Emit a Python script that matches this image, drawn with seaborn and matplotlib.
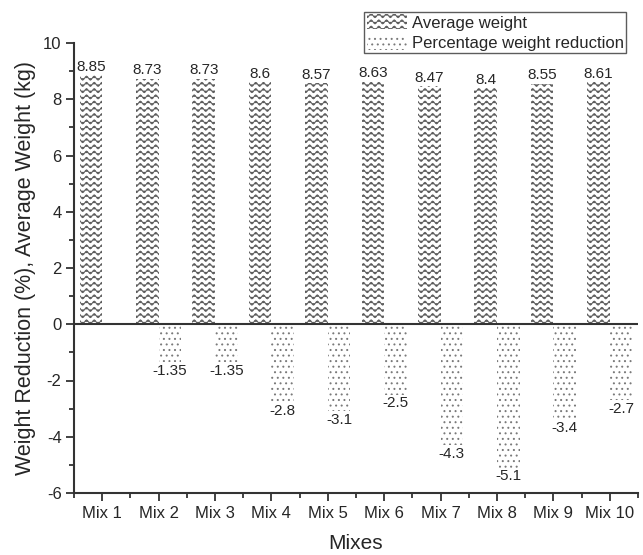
import warnings

import numpy as np
import pandas as pd
import matplotlib
matplotlib.use("Agg")
import matplotlib.pyplot as plt
import matplotlib.hatch as mhatch
import matplotlib.patches as mpatches
from matplotlib.path import Path
from matplotlib.ticker import MultipleLocator, FixedLocator
import seaborn as sns

warnings.filterwarnings("ignore")

# ---- data ---------------------------------------------------------------
mixes = ["Mix 1", "Mix 2", "Mix 3", "Mix 4", "Mix 5",
         "Mix 6", "Mix 7", "Mix 8", "Mix 9", "Mix 10"]
average_weight = [8.85, 8.73, 8.73, 8.6, 8.57, 8.63, 8.47, 8.4, 8.55, 8.61]
weight_reduction = [np.nan, -1.35, -1.35, -2.8, -3.1, -2.5, -4.3, -5.1, -3.4, -2.7]
series_names = ["Average weight", "Percentage weight reduction"]


# ---- wavy hatch pattern ('~') -------------------------------------------
class WaveHatch(mhatch.HatchPatternBase):
    ROWS = 16
    WAVES = 13
    STEPS = 8

    def __init__(self, hatch, density):
        n = hatch.count("~")
        self.num_rows = n * self.ROWS
        self.pts = self.WAVES * self.STEPS + 1
        self.num_vertices = self.num_rows * self.pts if self.num_rows else 0

    def set_vertices_and_codes(self, vertices, codes):
        x = np.linspace(0, 1, self.pts)
        amp = 0.32 / self.num_rows
        wave = amp * np.sin(2 * np.pi * self.WAVES * x)
        for i in range(self.num_rows):
            y0 = (i + 0.5) / self.num_rows
            sl = slice(i * self.pts, (i + 1) * self.pts)
            vertices[sl, 0] = x
            vertices[sl, 1] = y0 + wave
            codes[sl] = Path.LINETO
            codes[i * self.pts] = Path.MOVETO


mhatch._hatch_types.append(WaveHatch)

# ---- style ----------------------------------------------------------------
sns.set_style("ticks")
plt.rcParams["font.family"] = ["Liberation Sans", "DejaVu Sans"]
plt.rcParams["hatch.linewidth"] = 0.7
plt.rcParams["axes.unicode_minus"] = False

df = pd.DataFrame({
    "Mix": mixes * 2,
    "value": average_weight + weight_reduction,
    "series": [series_names[0]] * len(mixes) + [series_names[1]] * len(mixes),
})

fig = plt.figure(figsize=(6.43, 5.55), dpi=100)
ax = fig.add_axes([74 / 643, 1 - 493 / 555, 564 / 643, 450 / 555])

sns.barplot(data=df, x="Mix", y="value", hue="series", order=mixes,
            hue_order=series_names, palette=["white", "white"],
            errorbar=None, width=0.8, legend=False, ax=ax)

hatches = ["~", "..."]
hatch_colors = ["#5c5c5c", "#7a7a7a"]
for cont, h, hc in zip(ax.containers, hatches, hatch_colors):
    for bar in cont:
        bar.set_facecolor("white")
        bar.set_edgecolor(hc)
        bar.set_linewidth(0)
        bar.set_hatch(h)
    ax.bar_label(cont, fmt="{:g}", padding=1, fontsize=11)

ax.axhline(0, color="#333333", lw=1.5, zorder=3)

ax.set_xlim(-0.5, 9.5)
ax.set_ylim(-6, 10)
ax.yaxis.set_major_locator(MultipleLocator(2))
ax.yaxis.set_minor_locator(MultipleLocator(1))
ax.xaxis.set_minor_locator(FixedLocator(np.arange(-0.5, 10, 1.0)))

for side in ["top", "right"]:
    ax.spines[side].set_visible(False)
for side in ["left", "bottom"]:
    ax.spines[side].set_color("#333333")
    ax.spines[side].set_linewidth(1.5)

ax.tick_params(axis="both", which="major", length=6, width=1.3,
               color="#333333", labelsize=12, pad=3)
ax.tick_params(axis="both", which="minor", length=3.5, width=1.3,
               color="#333333")

ax.set_xlabel("Mixes", fontsize=15, labelpad=10)
ax.set_ylabel("Weight Reduction (%), Average Weight (kg)", fontsize=15.5, labelpad=5)

handles = [mpatches.Patch(facecolor="white", edgecolor=hc, linewidth=0, hatch=h)
           for h, hc in zip(hatches, hatch_colors)]
leg = fig.legend(handles, series_names, loc="upper right",
                 bbox_to_anchor=(626 / 643, 1 - 12 / 555), fontsize=12,
                 frameon=True, fancybox=False, edgecolor="#333333",
                 handlelength=2.4, handleheight=1.0, handletextpad=0.3,
                 labelspacing=0.25, borderpad=0.15, borderaxespad=0)
leg.get_frame().set_linewidth(1.0)

fig.savefig("out.png", dpi=100)
